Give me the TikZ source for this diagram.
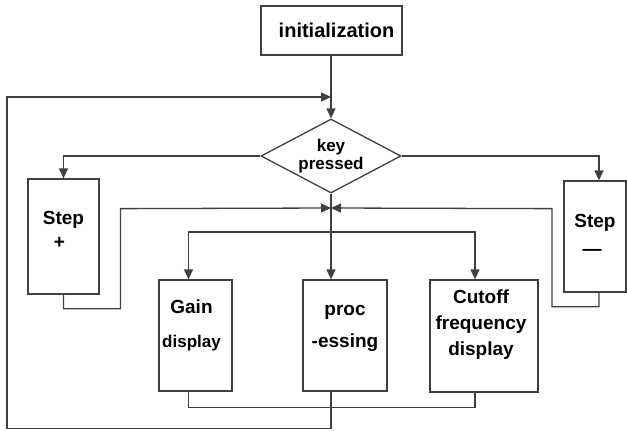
\documentclass[tikz,border=0pt]{standalone}
\usepackage{fontspec}
\setmainfont{Liberation Sans}
\usetikzlibrary{shapes.geometric, arrows.meta, positioning, calc}

\begin{document}
\begin{tikzpicture}[x=1pt, y=-1pt, font=\fontsize{19}{22}\selectfont\bfseries,
    box/.style={rectangle, draw=black!75, line width=1.3pt, align=center, inner sep=0pt},
    txt/.style={align=center, inner sep=0pt},
    decision/.style={diamond, draw=black!75, line width=1.3pt, align=center, inner sep=0pt, shape aspect=1.9, minimum width=140pt, minimum height=74pt},
    arrow/.style={-{Triangle[length=10pt, width=9pt]}, line width=1.3pt, draw=black!75},
    link/.style={line width=1.3pt, draw=black!75}
]
\useasboundingbox (0,0) rectangle (627,431);

% Top: start and decision
\node[box, minimum width=141pt, minimum height=49pt] (init) at (331.5,30.5) {\hspace*{10pt}{\fontsize{20}{22}\selectfont initialization}};
\node[decision, font=\fontsize{17}{18}\selectfont\bfseries] (key) at (331,156) {key\\pressed};
\coordinate (join) at (331,97);
\coordinate (merge) at (331,208);
\coordinate (split) at (331,232);

% Step boxes
\node[box, minimum width=71pt, minimum height=115pt,
      label={[txt, yshift=7pt]center:{Step\\[2pt]\hspace*{-8pt}+}}] (stepp) at (63.5,236.5) {};
\node[box, minimum width=62pt, minimum height=111pt,
      label={[txt, yshift=2pt]center:{Step\\[6pt]\hspace*{-6pt}—}}] (stepm) at (595,236.5) {};

% Output boxes
\node[box, minimum width=73pt, minimum height=111pt,
      label={[txt, yshift=10pt, xshift=-4pt]center:{Gain\\[12pt]{\fontsize{17}{20}\selectfont display}}}] (gain) at (195.5,335.5) {};
\node[box, minimum width=84pt, minimum height=111pt,
      label={[txt, yshift=7pt]center:{proc\\[10pt]-essing}}] (proc) at (345,335.5) {};
\node[box, minimum width=108pt, minimum height=112pt,
      label={[txt, yshift=11pt, xshift=-3pt]center:{Cutoff\\[4pt]frequency\\[4pt]display}}] (cutoff) at (484,336) {};

% Main flow
\draw[arrow] (init.south -| key) -- (key.north);
\draw[arrow] (key.west) -| (stepp.north);
\draw[arrow] (key.east) -| ([xshift=4pt]stepm.north);
\draw[arrow] (key.south) -- (proc.north -| key);
\draw[arrow] (split) -| ([xshift=-7pt]gain.north);
\draw[arrow] (split) -| ([xshift=-9pt]cutoff.north);

% Returns from step boxes
\draw[arrow] (stepp.south) -- ++(0,14) -| ++(57,-100) -- (merge);
\draw[arrow] ([xshift=4pt]stepm.south) -- ++(0,14) -| ++(-47,-98) -- (merge);

% Bottom links
\draw[link] ([xshift=-7pt]gain.south) -- ++(0,16) -| ([xshift=-9pt]cutoff.south);
\draw[arrow] (proc.south -| key) -- ++(0,37) -| (7,97) -- (join);

\end{tikzpicture}
\end{document}
